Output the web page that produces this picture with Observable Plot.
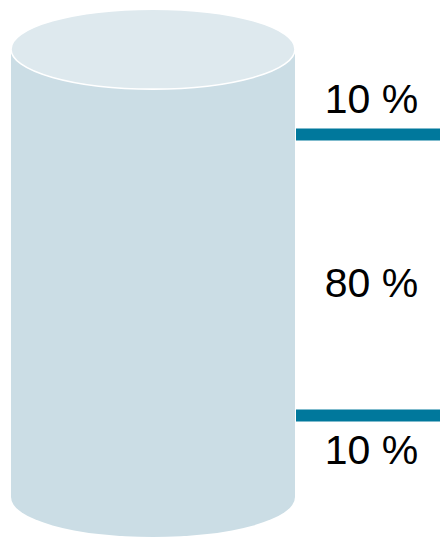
<!DOCTYPE html>
<html>
<head>
<meta charset="utf-8">
<script src="https://cdn.jsdelivr.net/npm/d3@7"></script>
<script src="https://cdn.jsdelivr.net/npm/@observablehq/plot@0.6"></script>
<style>
  html, body { margin: 0; padding: 0; background: #ffffff; }
  #chart svg { display: block; }
</style>
</head>
<body>
<div id="chart"></div>
<script>
// Data
const segmentLabels = ["10 %", "80 %", "10 %"];   // bottom to top
const segmentShares = [10, 80, 10];

// Derived cumulative boundaries (in percent)
const cum = d3.cumsum(segmentShares);             // [10, 90, 100]
const starts = [0, ...cum.slice(0, -1)];          // [0, 10, 90]
const total = d3.sum(segmentShares);
const boundaries = cum.slice(0, -1);              // [10, 90]

const segs = segmentLabels.map((label, i) => ({
  label, start: starts[i], end: cum[i], mid: (starts[i] + cum[i]) / 2
}));
// end labels sit at the outer edges, middle label near the centre
const endLabels = [
  {label: segs[0].label, y: segs[0].start},
  {label: segs[2].label, y: segs[2].end}
];
const midLabels = [{label: segs[1].label, y: segs[1].mid}];

// Layout / style
const W = 440, H = 538;
const cylX1 = 11, cylX2 = 295;
const capTop = total + 14.2, capBottom = -13.4, capR = 11.4; // in percent units
const bodyFill = "#cbdde5", topFill = "#dee9ee", teal = "#00789c";
const font = "Arial, Helvetica, 'Liberation Sans', sans-serif";

const chart = Plot.plot({
  width: W, height: H,
  margin: 0,
  x: {domain: [0, W], range: [0, W], axis: null},
  y: {domain: [-25.05, 128.2], range: [H, 0], axis: null},
  style: {fontFamily: font, background: "#ffffff"},
  marks: [
    // bottom cap (ellipse)
    Plot.rect([0], {x1: cylX1, x2: cylX2, y1: capBottom - capR, y2: capBottom + capR,
      fill: bodyFill, rx: (cylX2 - cylX1) / 2, ry: 40}),
    // body
    Plot.rect([0], {x1: cylX1, x2: cylX2, y1: capBottom, y2: capTop, fill: bodyFill}),
    // top cap (ellipse)
    Plot.rect([0], {x1: cylX1, x2: cylX2, y1: capTop - capR, y2: capTop + capR,
      fill: topFill, stroke: "#ffffff", strokeWidth: 1.6, rx: (cylX2 - cylX1) / 2, ry: 40}),
    // boundary lines
    Plot.ruleY(boundaries, {x1: 296, x2: W, stroke: teal, strokeWidth: 12}),
    // labels
    Plot.text(endLabels, {x: 371, y: "y", text: "label", fontSize: 41, fill: "#000000",
      fontFamily: font, textAnchor: "middle", lineAnchor: "middle"}),
    Plot.text(midLabels, {x: 371, y: "y", text: "label", fontSize: 41, fill: "#000000",
      fontFamily: font, textAnchor: "middle", lineAnchor: "middle", dy: 9})
  ]
});
document.getElementById("chart").appendChild(chart);
</script>
</body>
</html>
